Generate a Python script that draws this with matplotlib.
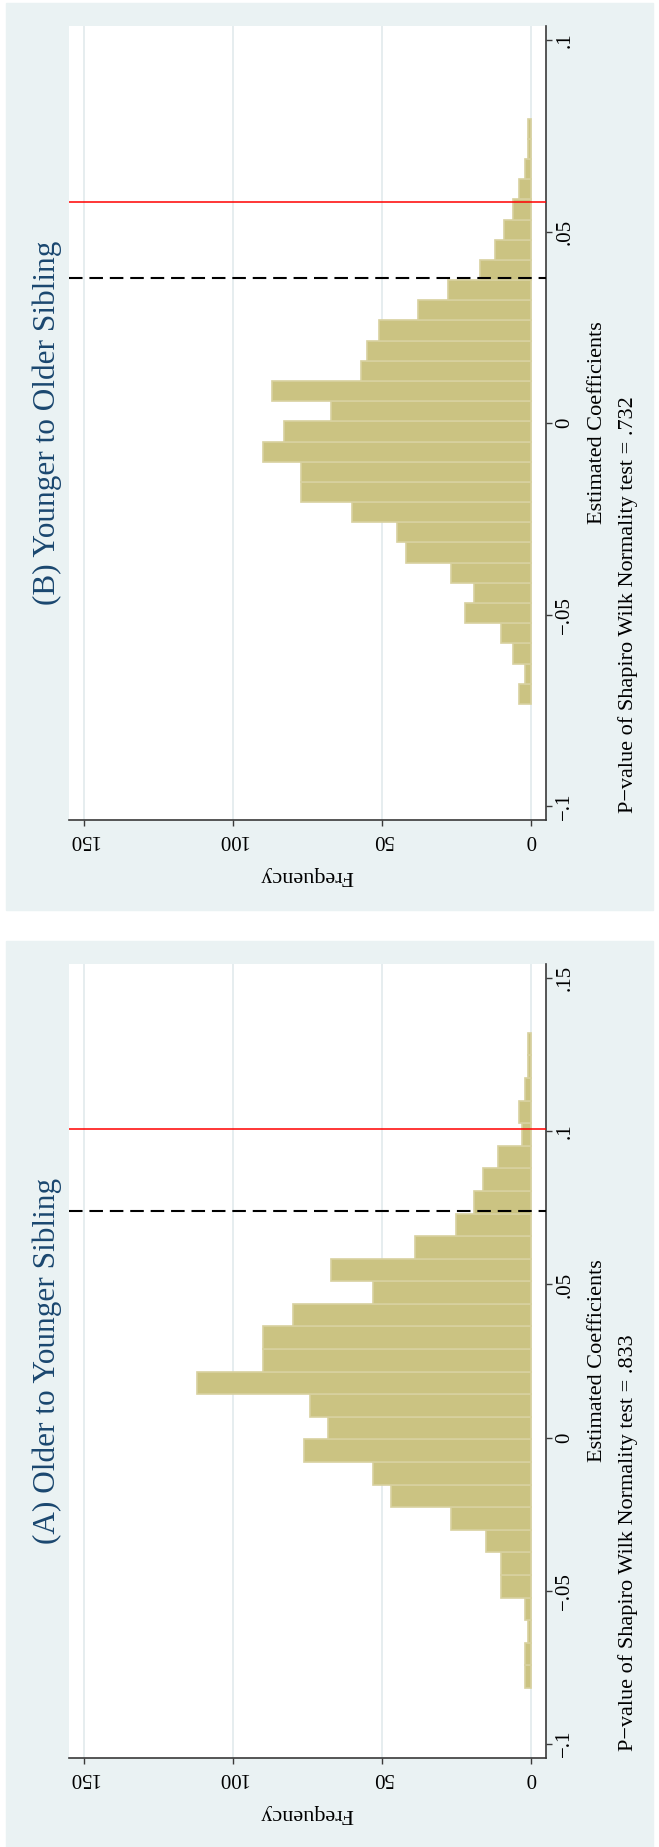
import numpy as np
import matplotlib.pyplot as plt
from matplotlib.patches import Rectangle

plt.rcParams['font.family'] = ['Liberation Serif', 'DejaVu Serif']

W, H = 659, 1847

# panel B: counts per bin, lowest coefficient first
freq_b = [4, 2, 6, 10, 22, 19, 27, 42, 45, 60, 77, 77, 90, 83, 67, 87,
          57, 55, 51, 38, 28, 17, 12, 9, 6, 4, 2, 1, 1]
start_b = -0.0733
width_b = 0.00527
red_b = 0.0578
dash_b = 0.0378
title_b = "(B) Younger to Older Sibling"
pval_b = "P\u2212value of Shapiro Wilk Normality test = .732"
ticks_b = [-0.1, -0.05, 0, 0.05, 0.1]
labels_b = ["\u2212.1", "\u2212.05", "0", ".05", ".1"]

# panel A
freq_a = [2, 2, 1, 2, 10, 10, 15, 27, 47, 53, 76, 68, 74, 112, 90, 90,
          80, 53, 67, 39, 25, 19, 16, 11, 3, 4, 2, 1, 1]
start_a = -0.0818
width_a = 0.00738
red_a = 0.1007
dash_a = 0.0741
title_a = "(A) Older to Younger Sibling"
pval_a = "P\u2212value of Shapiro Wilk Normality test = .833"
ticks_a = [-0.1, -0.05, 0, 0.05, 0.1, 0.15]
labels_a = ["\u2212.1", "\u2212.05", "0", ".05", ".1", ".15"]

freq_ticks = [0, 50, 100, 150]

bg = '#eaf2f3'
barcol = '#cbc382'
edgecol = '#d8d19f'
navy = '#1a476f'

fig = plt.figure(figsize=(W / 100, H / 100), dpi=100)


def fx(x):
    return x / W


def fy(y):
    return 1 - y / H


panels = [
    (freq_b, start_b, width_b, red_b, dash_b, title_b, pval_b, ticks_b, labels_b, (-0.1036, 0.1037), 0),
    (freq_a, start_a, width_a, red_a, dash_a, title_a, pval_a, ticks_a, labels_a, (-0.1047, 0.1547), 938),
]

for freq, start, width, red, dash, title, pval, ticks, labels, ylim, off in panels:
    # grey-blue panel background
    fig.patches.append(Rectangle((fx(6), fy(910 + off)), fx(653) - fx(6),
                                 fy(3 + off) - fy(910 + off),
                                 transform=fig.transFigure, color=bg, zorder=-5))
    ax = fig.add_axes([fx(69), fy(820 + off), fx(545.7) - fx(69),
                       fy(26 + off) - fy(820 + off)], zorder=2)
    edges = start + width * np.arange(len(freq))
    ax.barh(edges, freq, height=width, align='edge', color=barcol,
            edgecolor=edgecol, linewidth=1.2, zorder=2)
    ax.axhline(dash, color='black', lw=1.5, ls=(0, (6.5, 3.3)), zorder=3)
    ax.axhline(red, color='red', lw=1.1, zorder=3)

    ax.set_xlim(155, -4.93)
    ax.set_ylim(*ylim)
    ax.set_axisbelow(True)
    ax.grid(axis='x', color='#e4ecee', lw=1.3)
    ax.grid(axis='y', visible=False)

    for s in ['top', 'left']:
        ax.spines[s].set_visible(False)
    for s in ['bottom', 'right']:
        ax.spines[s].set_color('#3a3a3a')
        ax.spines[s].set_linewidth(1.2)

    ax.yaxis.tick_right()
    ax.set_yticks(ticks)
    ax.set_yticklabels(labels, rotation=90, va='center', fontsize=15)
    ax.set_xticks(freq_ticks)
    ax.set_xticklabels([str(t) for t in freq_ticks], rotation=180, fontsize=15)
    ax.tick_params(length=4, width=1, color='#3a3a3a', pad=3)

    fig.text(fx(47), fy(423 + off), title, rotation=90, ha='center', va='center',
             fontsize=22.5, color=navy)
    fig.text(fx(598), fy(423 + off), "Estimated Coefficients", rotation=90,
             ha='center', va='center', fontsize=16)
    fig.text(fx(628), fy(813 + off), pval, rotation=90, ha='center', va='bottom',
             fontsize=16)
    fig.text(fx(307), fy(876 + off), "Frequency", rotation=180, ha='center',
             va='center', fontsize=16)

fig.savefig('out.png', dpi=100)
